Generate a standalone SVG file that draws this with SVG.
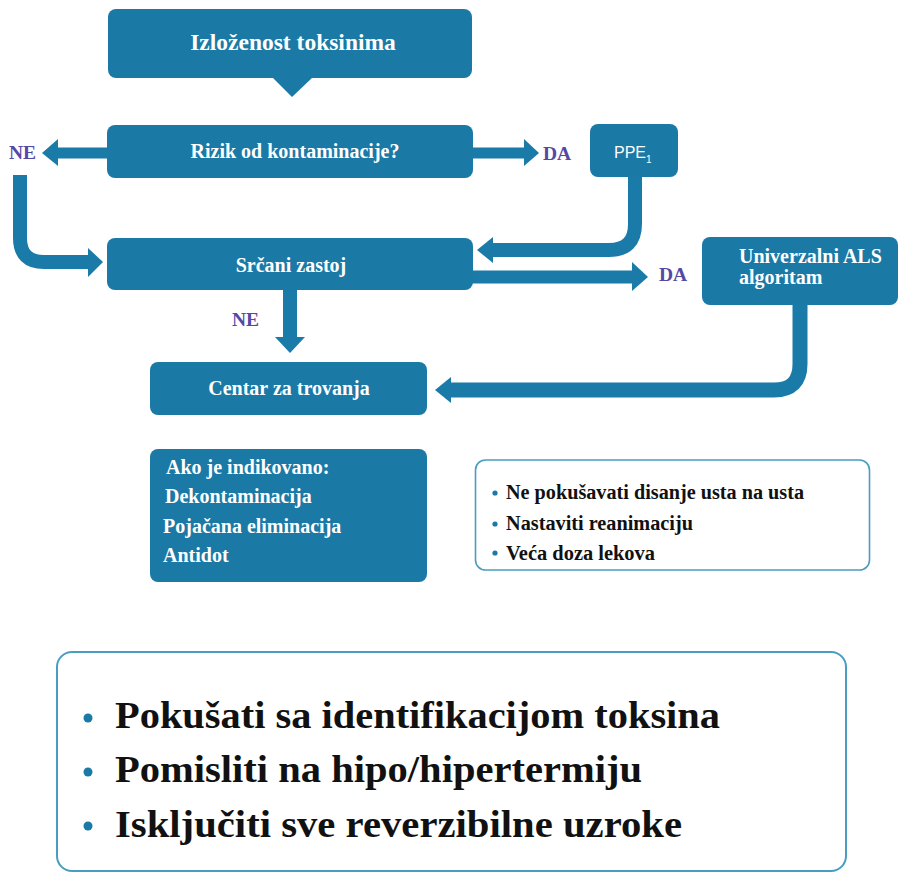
<svg xmlns="http://www.w3.org/2000/svg" width="898" height="876" viewBox="0 0 898 876">
<defs>
<style>
.box{fill:#1b79a6;}
.bt{font-family:"Liberation Serif","Times New Roman",serif;font-weight:bold;font-size:20px;fill:#ffffff;}
.lbl{font-family:"Liberation Serif","Times New Roman",serif;font-weight:bold;font-size:19.5px;fill:#5549a6;}
.shaft{fill:none;stroke:#1b7ba8;stroke-width:14;}
.head{fill:#1b7ba8;}
.wt{font-family:"Liberation Serif","Times New Roman",serif;font-weight:bold;font-size:20px;fill:#111111;}
.big{font-family:"Liberation Serif","Times New Roman",serif;font-weight:bold;font-size:37px;fill:#111111;}
.dot{fill:#1b79a6;}
.frame{fill:#ffffff;stroke:#4a9cc0;}
</style>
</defs>
<rect width="898" height="876" fill="#ffffff"/>

<g id="connectors">
  <path class="shaft" d="M108,153 H56" style="stroke-width:11"/>
  <polygon class="head" points="42,153 58,139 58,166"/>
  <path class="shaft" d="M20,175 V238 Q20,262 44,262 H92"/>
  <polygon class="head" points="103,262 88,248 88,277"/>
  <path class="shaft" d="M472,153 H527" style="stroke-width:11"/>
  <polygon class="head" points="539,153 524,139 524,166"/>
  <path class="shaft" d="M635,176 V224 Q635,250 609,250 H490"/>
  <polygon class="head" points="477,250 493,237 493,263"/>
  <path class="shaft" d="M472,277 H634" style="stroke-width:13"/>
  <polygon class="head" points="648,277 632,262 632,291"/>
  <path class="shaft" d="M290,289 V339"/>
  <polygon class="head" points="290,353 275,337 305,337"/>
  <path class="shaft" d="M800,304 V364 Q800,390 774,390 H448" style="stroke-width:15"/>
  <polygon class="head" points="435,390 451,377 451,403"/>
</g>

<g id="labels">
  <text class="lbl" x="9" y="159">NE</text>
  <text class="lbl" x="543" y="160">DA</text>
  <text class="lbl" x="659" y="281">DA</text>
  <text class="lbl" x="232" y="326">NE</text>
</g>

<g id="node-izlozenost">
  <rect class="box" x="108" y="9" width="364" height="69" rx="8"/>
  <polygon class="box" points="272,77 313,77 292,97"/>
  <text class="bt" x="293" y="50" text-anchor="middle" style="font-size:23.5px">Izloženost toksinima</text>
</g>

<g id="node-rizik">
  <rect class="box" x="107" y="125" width="366" height="53" rx="8"/>
  <text class="bt" x="295" y="158" text-anchor="middle">Rizik od kontaminacije?</text>
</g>

<g id="node-ppe">
  <rect class="box" x="590" y="124" width="88" height="53" rx="8"/>
  <text x="614" y="158" style="font-family:'Liberation Sans',Arial,sans-serif;font-size:16px;fill:#ffffff">PPE<tspan dy="5" style="font-size:10px">1</tspan></text>
</g>

<g id="node-srcani">
  <rect class="box" x="107" y="238" width="366" height="52" rx="8"/>
  <text class="bt" x="291" y="272" text-anchor="middle">Srčani zastoj</text>
</g>

<g id="node-als">
  <rect class="box" x="702" y="237" width="196" height="68" rx="8"/>
  <text class="bt" x="739" y="263">Univerzalni ALS</text>
  <text class="bt" x="739" y="284">algoritam</text>
</g>

<g id="node-centar">
  <rect class="box" x="150" y="362" width="277" height="53" rx="8"/>
  <text class="bt" x="289" y="395" text-anchor="middle">Centar za trovanja</text>
</g>

<g id="node-ako">
  <rect class="box" x="150" y="449" width="277" height="133" rx="8"/>
  <text class="bt" x="166" y="474">Ako je indikovano:</text>
  <text class="bt" x="165" y="503">Dekontaminacija</text>
  <text class="bt" x="163" y="533">Pojačana eliminacija</text>
  <text class="bt" x="163" y="562">Antidot</text>
</g>

<g id="node-napomene">
  <rect class="frame" x="475.5" y="460" width="394" height="110" rx="10" stroke-width="1.6"/>
  <circle class="dot" cx="495" cy="493" r="2.6"/>
  <circle class="dot" cx="495" cy="524" r="2.6"/>
  <circle class="dot" cx="495" cy="553" r="2.6"/>
  <text class="wt" x="506" y="499" textLength="298" lengthAdjust="spacingAndGlyphs">Ne pokušavati disanje usta na usta</text>
  <text class="wt" x="506" y="530" textLength="187" lengthAdjust="spacingAndGlyphs">Nastaviti reanimaciju</text>
  <text class="wt" x="506" y="560" textLength="149" lengthAdjust="spacingAndGlyphs">Veća doza lekova</text>
</g>

<g id="node-preporuke">
  <rect class="frame" x="57" y="652" width="789" height="219" rx="15" stroke-width="2"/>
  <circle class="dot" cx="88" cy="718" r="4.5"/>
  <circle class="dot" cx="88" cy="772" r="4.5"/>
  <circle class="dot" cx="88" cy="826" r="4.5"/>
  <text class="big" x="115" y="728" textLength="605" lengthAdjust="spacingAndGlyphs">Pokušati sa identifikacijom toksina</text>
  <text class="big" x="115" y="782" textLength="527" lengthAdjust="spacingAndGlyphs">Pomisliti na hipo/hipertermiju</text>
  <text class="big" x="115" y="837" textLength="567" lengthAdjust="spacingAndGlyphs">Isključiti sve reverzibilne uzroke</text>
</g>
</svg>
